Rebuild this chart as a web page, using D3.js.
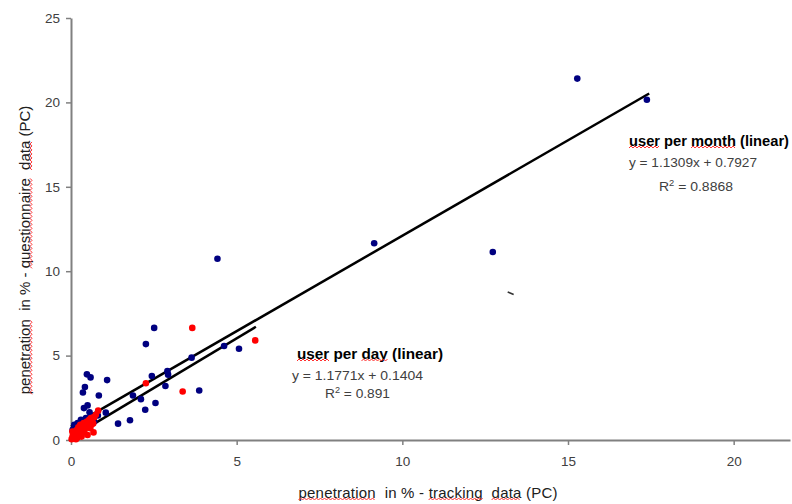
<html>
<head>
<script src="https://d3js.org/d3.v7.min.js"></script>
<style>
body { margin: 0; background: white; }
text { font-family: "Liberation Sans", Arial, sans-serif; }
</style>
</head>
<body>
<svg width="792" height="504"></svg>
<script>
// values: [tracking %, questionnaire %]
var monthPoints = [
  [15.28,21.41],[17.38,20.16],[9.15,11.66],[12.73,11.14],[4.42,10.74],
  [2.51,6.64],[2.26,5.68],[4.62,5.57],[5.07,5.41],[3.64,4.88],
  [2.91,4.08],[2.93,3.87],[2.44,3.79],[0.48,3.89],[0.59,3.71],[1.09,3.55],
  [0.42,3.14],[2.85,3.2],[3.87,2.93],[0.36,2.81],[0.84,2.64],[1.87,2.64],
  [2.11,2.42],[2.55,2.19],[2.24,1.79],[0.39,1.89],[0.5,2.05],[0.56,1.64],
  [1.05,1.62],[0.81,1.45],[1.42,0.97],[1.78,1.17],
  [0.05,0.6],[0.1,0.9],[0.15,0.7],[0.2,1.0],[0.3,1.2],[0.45,1.3],[0.6,1.4],
  [0.7,1.1],[0.25,0.3],[0.35,0.95]
];
var dayPoints = [
  [3.66,6.64],[5.56,5.9],[3.37,2.87],[2.26,3.36],[0.82,1.74],[0.68,1.35],
  [0.67,0.98],[0.68,0.45],
  [0.02,0.05],[0.05,0.2],[0.08,0.1],[0.1,0.35],[0.12,0.5],[0.15,0.25],
  [0.18,0.6],[0.2,0.15],[0.22,0.75],[0.25,0.4],[0.28,0.9],[0.3,0.55],
  [0.32,0.2],[0.35,0.8],[0.38,1.0],[0.4,0.45],[0.42,0.65],[0.45,0.85],
  [0.48,1.1],[0.5,0.3],[0.52,0.95],[0.55,1.2],[0.58,0.7],[0.6,1.3],
  [0.62,0.9],[0.65,1.05],[0.7,1.35],[0.75,1.5],[0.04,0.5],[0.06,0.3],[0.15,0.05]
];
// trendlines: slope, intercept, x range
var monthFit = {slope: 1.1309, intercept: 0.7927, r2: "0.8868", x0: 0, x1: 17.45};
var dayFit = {slope: 1.1771, intercept: 0.1404, r2: "0.891", x0: 0, x1: 5.58};
var strayMark = [[13.18,8.77],[13.36,8.62]];
var xTicks = [0, 5, 10, 15, 20];
var yTicks = [0, 5, 10, 15, 20, 25];

var svg = d3.select("svg");
var x = d3.scaleLinear().domain([0, 21.7]).range([71, 790]);
var y = d3.scaleLinear().domain([0, 25]).range([440, 18]);

// axes
var gx = svg.append("g").attr("transform", "translate(0,440)")
  .call(d3.axisBottom(x).tickValues(xTicks).tickSize(5).tickPadding(11).tickSizeOuter(0));
var gy = svg.append("g").attr("transform", "translate(71,0)")
  .call(d3.axisLeft(y).tickValues(yTicks).tickSize(5).tickPadding(6).tickSizeOuter(0));
[gx, gy].forEach(function(g) {
  g.select(".domain").attr("stroke", "#808080").attr("stroke-width", 2);
  g.selectAll(".tick line").attr("stroke", "#808080").attr("stroke-width", 1.5);
  g.selectAll(".tick text").attr("fill", "#404040")
    .style("font-family", "'Liberation Sans', Arial, sans-serif").style("font-size", "13.5px");
});

// trendlines
function fitLine(f) {
  return [[f.x0, f.slope*f.x0 + f.intercept], [f.x1, f.slope*f.x1 + f.intercept]];
}
var line = d3.line().x(function(d) { return x(d[0]); }).y(function(d) { return y(d[1]); });
svg.append("path").attr("d", line(fitLine(monthFit)))
  .attr("stroke", "black").attr("stroke-width", 2.5).attr("fill", "none");
svg.append("path").attr("d", line(fitLine(dayFit)))
  .attr("stroke", "black").attr("stroke-width", 2.5).attr("fill", "none");
svg.append("path").attr("d", line(strayMark))
  .attr("stroke", "#333").attr("stroke-width", 1.5).attr("fill", "none");

// points
svg.append("g").selectAll("circle").data(monthPoints).enter().append("circle")
  .attr("cx", function(d) { return x(d[0]); })
  .attr("cy", function(d) { return y(d[1]); })
  .attr("r", 3.3).attr("fill", "#000080");
svg.append("g").selectAll("circle").data(dayPoints).enter().append("circle")
  .attr("cx", function(d) { return x(d[0]); })
  .attr("cy", function(d) { return y(d[1]); })
  .attr("r", 3.3).attr("fill", "#ff0000");

// labels with red wavy spell-check underlines
function label(parts, attrs, tf) {
  var g = svg.append("g");
  if (tf) g.attr("transform", tf);
  var t = g.append("text").attr("xml:space", "preserve");
  for (var k in attrs) t.attr(k, attrs[k]);
  var str = parts.map(function(p) { return p[0]; }).join("");
  t.text(str);
  var node = t.node(), pos = 0;
  parts.forEach(function(p) {
    if (p[1]) {
      var a = node.getExtentOfChar(pos), b = node.getExtentOfChar(pos + p[0].length - 1);
      var x0 = a.x, x1 = b.x + b.width, yb = a.y + a.height - 1;
      var d = "M" + x0 + "," + yb, up = true;
      for (var xx = x0 + 2; xx <= x1; xx += 2) { d += "L" + xx + "," + (up ? yb - 2 : yb); up = !up; }
      g.append("path").attr("d", d).attr("stroke", "#ff3030").attr("stroke-width", 1).attr("fill", "none");
    }
    pos += p[0].length;
  });
  return t;
}
label([["penetration", 1], ["  in % - ", 0], ["tracking", 1], ["  ", 0], ["data", 1], [" (PC)", 0]],
  {x: 428, y: 498, "text-anchor": "middle", "font-size": "15px", fill: "#202020", textLength: 259});
label([["penetration", 1], ["  in % - ", 0], ["questionnaire", 1], ["  ", 0], ["data", 1], [" (PC)", 0]],
  {x: 0, y: 0, "text-anchor": "middle", "font-size": "15px", fill: "#202020"},
  "translate(30,250) rotate(-90)");

function fitText(f, tx, ty, ex, rx, ry, titleParts, titleW, eqW, r2W) {
  label(titleParts, {x: tx, y: ty, "font-size": "15px", "font-weight": "bold", fill: "black",
    textLength: titleW, lengthAdjust: "spacingAndGlyphs"});
  svg.append("text").attr("x", ex).attr("y", ty + 21).attr("font-size", "13.5px").attr("fill", "#404040")
    .attr("textLength", eqW).attr("lengthAdjust", "spacingAndGlyphs")
    .text("y = " + f.slope.toFixed(4) + "x + " + f.intercept.toFixed(4));
  svg.append("text").attr("x", rx).attr("y", ry).attr("font-size", "13.5px").attr("fill", "#404040")
    .attr("textLength", r2W).attr("lengthAdjust", "spacingAndGlyphs")
    .html("R<tspan baseline-shift='super' font-size='9px'>2</tspan> = " + f.r2);
}
fitText(monthFit, 629, 146, 629, 659, 191, [["user", 1], [" per ", 0], ["month", 1], [" (linear)", 0]], 160, 128, 74);
fitText(dayFit, 297, 359, 292, 325, 398, [["user", 1], [" per ", 0], ["day", 1], [" (linear)", 0]], 146, 131, 65);
</script>
</body>
</html>
